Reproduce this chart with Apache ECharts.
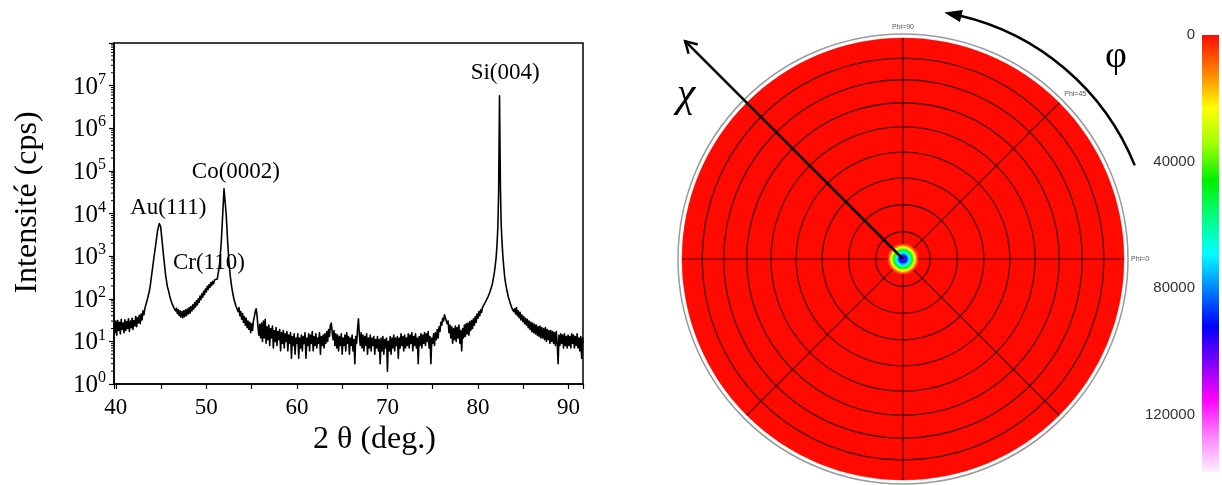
<!DOCTYPE html>
<html><head><meta charset="utf-8">
<script src="https://cdn.jsdelivr.net/npm/echarts@6/dist/echarts.min.js"></script>
<style>html,body{margin:0;padding:0;background:#fff}#c{width:1222px;height:485px}</style>
</head><body><div id="c"></div>
<script>
// ---------- XRD scan: [2theta (deg), intensity (cps)] ----------
const xrdScan = [
[39.8,26],[39.9,16],[40.0,30],[40.1,14],[40.2,31],[40.3,18],[40.4,28],[40.5,15],[40.6,33],[40.7,19],
[40.8,27],[40.9,16],[41.0,32],[41.1,18],[41.2,29],[41.3,20],[41.4,34],[41.5,17],[41.6,30],[41.7,21],
[41.8,35],[41.9,19],[42.0,31],[42.1,23],[42.2,38],[42.3,22],[42.4,36],[42.5,27],[42.6,41],[42.7,26],
[42.8,44],[42.9,32],[43.0,52],[43.1,42],[43.2,58],[43.3,70],[43.4,66],[43.5,100],[43.6,95],[43.7,150],
[43.8,200],[44.0,420],[44.2,900],[44.4,1800],[44.6,3800],[44.8,5800],[44.95,5000],[45.1,2400],[45.3,900],[45.5,360],
[45.7,190],[45.8,160],[45.9,130],[46.0,105],[46.1,100],[46.2,78],[46.3,80],[46.4,62],[46.5,68],[46.6,52],
[46.7,60],[46.8,45],[46.9,55],[47.0,40],[47.1,52],[47.2,37],[47.3,50],[47.4,36],[47.5,52],[47.6,38],
[47.7,55],[47.8,40],[47.9,57],[48.0,44],[48.1,62],[48.2,46],[48.3,66],[48.4,52],[48.5,72],[48.6,57],
[48.7,80],[48.8,64],[48.9,90],[49.0,72],[49.1,100],[49.2,82],[49.3,115],[49.4,95],[49.5,130],[49.6,108],
[49.7,150],[49.8,125],[49.9,170],[50.0,145],[50.1,195],[50.2,165],[50.3,215],[50.4,185],[50.5,240],[50.6,205],
[50.7,255],[50.8,225],[50.9,275],[51.0,250],[51.1,300],[51.2,290],[51.3,390],[51.4,520],[51.5,800],[51.65,2200],
[51.8,9000],[51.95,38000],[52.05,36000],[52.2,9000],[52.35,2200],[52.5,700],[52.65,330],[52.8,190],[52.9,140],[53.0,110],
[53.1,88],[53.2,92],[53.3,65],[53.4,70],[53.5,50],[53.6,62],[53.7,40],[53.8,50],[53.9,33],[54.0,45],
[54.1,28],[54.2,38],[54.3,24],[54.4,35],[54.5,21],[54.6,30],[54.7,19],[54.8,28],[54.9,16],[55.0,26],
[55.1,18],[55.2,30],[55.3,38],[55.4,50],[55.5,58],[55.6,40],[55.7,22],[55.8,14],[55.9,25],[56.0,12],
[56.1,27],[56.2,10],[56.3,30],[56.4,12],[56.5,33],[56.6,9],[56.7,22],[56.8,11],[56.9,24],[57.0,8],
[57.1,20],[57.2,12],[57.3,23],[57.4,7],[57.5,18],[57.6,10],[57.7,21],[57.8,8],[57.9,17],[58.0,11],
[58.1,19],[58.2,6],[58.3,16],[58.4,9],[58.5,18],[58.6,7],[58.7,15],[58.8,10],[58.9,17],[59.0,6],
[59.1,14],[59.2,9],[59.3,16],[59.4,4],[59.5,13],[59.6,8],[59.7,15],[59.8,5],[59.9,12],[60.0,9],
[60.1,15],[60.2,4],[60.3,12],[60.4,7],[60.5,14],[60.6,6],[60.7,13],[60.8,9],[60.9,16],[61.0,4],
[61.1,12],[61.2,8],[61.3,15],[61.4,6],[61.5,14],[61.6,9],[61.7,17],[61.8,6],[61.9,13],[62.0,8],
[62.1,15],[62.2,7],[62.3,12],[62.4,9],[62.5,16],[62.6,5],[62.7,13],[62.8,8],[62.9,14],[63.0,7],
[63.1,15],[63.2,9],[63.3,17],[63.4,10],[63.5,19],[63.6,13],[63.7,24],[63.8,27],[63.9,16],[64.0,11],
[64.1,18],[64.2,8],[64.3,15],[64.4,7],[64.5,14],[64.6,6],[64.7,13],[64.8,8],[64.9,15],[65.0,5],
[65.1,12],[65.2,8],[65.3,14],[65.4,6],[65.5,16],[65.6,9],[65.7,13],[65.8,5],[65.9,12],[66.0,8],
[66.1,14],[66.2,6],[66.3,11],[66.4,3],[66.5,13],[66.6,9],[66.7,20],[66.8,34],[66.9,14],[67.0,8],
[67.1,16],[67.2,7],[67.3,14],[67.4,6],[67.5,13],[67.6,8],[67.7,15],[67.8,5],[67.9,12],[68.0,7],
[68.1,14],[68.2,6],[68.3,12],[68.4,8],[68.5,13],[68.6,5],[68.7,11],[68.8,7],[68.9,13],[69.0,6],
[69.1,11],[69.2,3],[69.3,12],[69.4,6],[69.5,13],[69.6,5],[69.7,11],[69.8,7],[69.9,12],[70.0,2],
[70.1,10],[70.2,6],[70.3,13],[70.4,5],[70.5,12],[70.6,7],[70.7,14],[70.8,6],[70.9,12],[71.0,8],
[71.1,13],[71.2,4],[71.3,12],[71.4,7],[71.5,15],[71.6,8],[71.7,13],[71.8,6],[71.9,14],[72.0,7],
[72.1,12],[72.2,8],[72.3,15],[72.4,7],[72.5,14],[72.6,9],[72.7,16],[72.8,6],[72.9,13],[73.0,8],
[73.1,15],[73.2,7],[73.3,12],[73.4,3],[73.5,13],[73.6,8],[73.7,15],[73.8,7],[73.9,14],[74.0,9],
[74.1,16],[74.2,8],[74.3,15],[74.4,10],[74.5,17],[74.6,7],[74.7,13],[74.8,3],[74.9,12],[75.0,9],
[75.1,15],[75.2,8],[75.3,16],[75.4,11],[75.5,19],[75.6,12],[75.7,22],[75.8,17],[75.9,28],[76.0,24],
[76.1,35],[76.2,30],[76.3,42],[76.4,36],[76.5,40],[76.6,26],[76.7,30],[76.8,16],[76.9,24],[77.0,12],
[77.1,22],[77.2,9],[77.3,20],[77.4,11],[77.5,23],[77.6,10],[77.7,21],[77.8,12],[77.9,24],[78.0,9],
[78.1,18],[78.2,6],[78.3,20],[78.4,12],[78.5,24],[78.6,13],[78.7,26],[78.8,15],[78.9,27],[79.0,14],
[79.1,29],[79.2,18],[79.3,31],[79.4,20],[79.5,34],[79.6,24],[79.7,38],[79.8,28],[79.9,44],[80.0,35],
[80.1,50],[80.2,40],[80.3,55],[80.4,48],[80.5,63],[80.6,58],[80.7,75],[80.8,72],[80.9,90],[81.0,95],
[81.1,110],[81.2,115],[81.3,140],[81.4,155],[81.5,190],[81.6,230],[81.7,300],[81.8,400],[81.9,580],[82.0,900],
[82.1,1800],[82.2,5000],[82.28,30000],[82.38,5800000],[82.48,40000],[82.56,6000],[82.65,2200],[82.75,1000],[82.85,550],[82.95,330],
[83.05,230],[83.15,175],[83.25,140],[83.35,110],[83.45,95],[83.55,80],[83.65,72],[83.75,60],[83.85,66],[83.95,50],
[84.05,58],[84.15,44],[84.25,62],[84.35,40],[84.45,52],[84.55,36],[84.65,48],[84.75,32],[84.85,42],[84.95,29],
[85.05,38],[85.15,26],[85.25,35],[85.35,24],[85.45,33],[85.55,21],[85.65,30],[85.75,19],[85.85,28],[85.95,17],
[86.05,27],[86.15,16],[86.25,25],[86.35,15],[86.45,24],[86.55,14],[86.65,22],[86.75,13],[86.85,23],[86.95,12],
[87.05,21],[87.15,12],[87.25,20],[87.35,11],[87.45,21],[87.55,10],[87.65,19],[87.75,11],[87.85,18],[87.95,9],
[88.05,18],[88.15,10],[88.25,17],[88.35,9],[88.45,16],[88.55,8],[88.65,17],[88.75,9],[88.85,3],[88.95,14],
[89.05,8],[89.15,15],[89.25,9],[89.35,14],[89.45,7],[89.55,15],[89.65,8],[89.75,13],[89.85,7],[89.95,14],
[90.05,8],[90.15,13],[90.25,7],[90.35,15],[90.45,9],[90.55,14],[90.65,7],[90.75,13],[90.85,8],[90.95,15],
[91.05,7],[91.15,12],[91.25,6],[91.35,13],[91.45,4],[91.55,12],[91.6,9]
];
const peakLabels = [
  [83.0, 2.0e7, 'Si(004)'],
  [53.26, 9.5e4, 'Co(0002)'],
  [45.8, 1.35e4, 'Au(111)'],
  [50.28, 690, 'Cr(110)']
];
const xRange = [39.8, 91.6];
const yRange = [1, 1e8];

// ---------- Pole figure: rings of [chi from, chi to, intensity] ----------
const poleBands = [
  [5.6, 90, 0],
  [5.1, 5.6, 4000],
  [4.6, 5.1, 11000],
  [4.1, 4.6, 22000],
  [3.6, 4.1, 33000],
  [3.1, 3.6, 45000],
  [2.6, 3.1, 56000],
  [2.0, 2.6, 69000],
  [1.4, 2.0, 80000],
  [0.8, 1.4, 92000],
  [0.0, 0.8, 100000]
];
const poleRingChi = [10, 20, 30, 40, 50, 60, 70, 80];
const poleSpokePhi = [0, 45, 90, 135, 180, 225, 270, 315];
const phiLabelValues = [0, 45, 90];
const colorbarMax = 138000;
const colorbarTickStep = 40000;
const palette = ['#ff0a00','#ff8000','#ffff00','#9fff00','#00f000','#00ff80','#00ffff',
                 '#0080ff','#0000ff','#8000ff','#ff00ff','#ff80ff','#fff0ff'];

const SERIF = 'Liberation Serif';
const SANS = 'Liberation Sans';

// equal-area projection of tilt angle chi onto the disk (chi = 90 -> 1)
function proj(chi) { return Math.sin(chi * Math.PI / 360) / Math.SQRT1_2; }
function radiusPx(api, cs, chi) {
  const p = api.coord([proj(chi), 0]);
  return Math.hypot(p[0] - cs.cx, p[1] - cs.cy);
}

const yMinorTicks = [];
for (let k = 0; k < 8; k++) for (let m = 2; m <= 9; m++) yMinorTicks.push([xRange[0], m * Math.pow(10, k)]);

const chart = echarts.init(document.getElementById('c'), null, {renderer: 'canvas'});
const option = {
  animation: false,
  backgroundColor: '#fff',
  grid: [
    {left: 114, top: 43, width: 469, height: 341, show: true, borderColor: '#000', borderWidth: 1.5, backgroundColor: 'transparent'},
    {left: 1202, top: 35, width: 17, height: 437}
  ],
  polar: {center: [903, 259], radius: [0, 225]},
  radiusAxis: {type: 'value', min: 0, max: 225 / 221, axisLine: {show: false}, axisTick: {show: false},
               axisLabel: {show: false}, splitLine: {show: false}},
  angleAxis: {type: 'value', min: 0, max: 360, interval: 45, startAngle: 0, clockwise: false, z: 1,
              axisLine: {lineStyle: {color: '#9a9a9a', width: 1.5}}, axisTick: {show: false}, splitLine: {show: false},
              axisLabel: {margin: 3, fontSize: 7, color: '#555', fontFamily: SANS,
                          formatter: v => phiLabelValues.indexOf(v) >= 0 ? 'Phi=' + v : ''}},
  xAxis: [
    {type: 'value', gridIndex: 0, min: xRange[0], max: xRange[1], splitNumber: 5,
     name: '2 θ (deg.)', nameLocation: 'middle', nameGap: 39,
     nameTextStyle: {fontFamily: SERIF, fontSize: 32, color: '#000', padding: [0, 0, 0, 52]},
     axisLine: {lineStyle: {color: '#000', width: 1.5}},
     axisTick: {length: 5, lineStyle: {color: '#000', width: 1.2}},
     minorTick: {show: true, splitNumber: 2, length: 5, lineStyle: {color: '#000', width: 1.2}},
     axisLabel: {margin: 12, fontFamily: SERIF, fontSize: 23, color: '#000',
                 formatter: v => (Math.abs(v % 10) < 1e-6 ? String(v) : '')},
     splitLine: {show: false}},
    {type: 'category', gridIndex: 1, data: ['I'], show: false}
  ],
  yAxis: [
    {type: 'log', gridIndex: 0, logBase: 10, min: yRange[0], max: yRange[1], splitNumber: 8,
     name: 'Intensité (cps)', nameLocation: 'middle', nameGap: 70,
     nameTextStyle: {fontFamily: SERIF, fontSize: 32, color: '#000', padding: [0, 0, 0, 22]},
     axisLine: {lineStyle: {color: '#000', width: 1.5}},
     axisTick: {length: 5, lineStyle: {color: '#000', width: 1.2}},
     axisLabel: {margin: 8, color: '#000',
       formatter: v => { const e = Math.round(Math.log10(v)); return e >= 8 ? '' : '{b|10}{s|' + e + '}'; },
       rich: {b: {fontFamily: SERIF, fontSize: 25, color: '#000', lineHeight: 28, verticalAlign: 'bottom'},
              s: {fontFamily: SERIF, fontSize: 16, color: '#000', verticalAlign: 'top', lineHeight: 24}}},
     splitLine: {show: false}},
    {type: 'value', gridIndex: 1, inverse: true, min: 0, max: colorbarMax, interval: colorbarTickStep,
     axisLine: {show: false}, axisTick: {show: false}, splitLine: {show: false},
     axisLabel: {margin: 7, fontFamily: SANS, fontSize: 15, color: '#333', showMaxLabel: false,
                 formatter: v => String(v)}}
  ],
  visualMap: {type: 'continuous', show: false, min: 0, max: colorbarMax, dimension: 2, seriesIndex: [3],
              inRange: {color: palette}},
  series: [
    {type: 'line', name: 'XRD', xAxisIndex: 0, yAxisIndex: 0, data: xrdScan, showSymbol: false,
     symbol: 'none', sampling: null, lineStyle: {color: '#000', width: 1.6, join: 'round'}, z: 3},
    {type: 'custom', name: 'yMinorTicks', xAxisIndex: 0, yAxisIndex: 0, data: yMinorTicks, clip: false, silent: true,
     renderItem: (params, api) => {
       const p = api.coord([api.value(0), api.value(1)]);
       return {type: 'line', shape: {x1: p[0] - 3, y1: p[1], x2: p[0], y2: p[1]},
               style: {stroke: '#000', lineWidth: 1}};
     }},
    {type: 'custom', name: 'peaks', xAxisIndex: 0, yAxisIndex: 0, data: peakLabels, silent: true, z: 5, clip: false,
     renderItem: (params, api) => {
       const p = api.coord([api.value(0), api.value(1)]);
       return {type: 'text', x: p[0], y: p[1],
               style: {text: peakLabels[params.dataIndex][2], font: '23px "Liberation Serif"', fill: '#000',
                       align: 'center', verticalAlign: 'middle'}};
     }},
    {type: 'custom', name: 'pole', coordinateSystem: 'polar', data: poleBands, z: 2, silent: true,
     renderItem: (params, api) => {
       const cs = params.coordSys;
       const r0 = radiusPx(api, cs, api.value(0));
       const r1 = radiusPx(api, cs, api.value(1));
       return {type: 'sector', shape: {cx: cs.cx, cy: cs.cy, r0: r0, r: r1, startAngle: 0, endAngle: Math.PI * 2},
               style: {fill: api.visual('color'), stroke: api.visual('color'), lineWidth: 0.5}};
     }},
    {type: 'custom', name: 'rings', coordinateSystem: 'polar', data: poleRingChi.map(c => [c, 0]), z: 3, silent: true,
     renderItem: (params, api) => {
       const cs = params.coordSys;
       const r = radiusPx(api, cs, api.value(0));
       return {type: 'circle', shape: {cx: cs.cx, cy: cs.cy, r: r},
               style: {fill: 'none', stroke: 'rgba(45,0,0,0.85)', lineWidth: 1.3}};
     }},
    {type: 'custom', name: 'spokes', coordinateSystem: 'polar', data: poleSpokePhi.map(a => [5.5, a]), z: 3, silent: true,
     renderItem: (params, api) => {
       const a = api.value(1);
       const p0 = api.coord([proj(api.value(0)), a]);
       const p1 = api.coord([proj(90), a]);
       return {type: 'line', shape: {x1: p0[0], y1: p0[1], x2: p1[0], y2: p1[1]},
               style: {stroke: 'rgba(45,0,0,0.85)', lineWidth: 1.2}};
     }},
    {type: 'bar', name: 'colorbar', xAxisIndex: 1, yAxisIndex: 1, data: [colorbarMax], barWidth: '100%', silent: true,
     itemStyle: {color: new echarts.graphic.LinearGradient(0, 0, 0, 1,
        palette.map((c, i) => ({offset: i / (palette.length - 1), color: c})))}}
  ]
};
chart.setOption(option);

// ---------- annotation arrows (chi and phi) placed through the polar coordinate system ----------
const px = (r, a) => chart.convertToPixel({polarIndex: 0}, [r, a]);
const C = px(0, 0);
const tip = px(1.394, 135);
const d = [(tip[0] - C[0]), (tip[1] - C[1])];
const dl = Math.hypot(d[0], d[1]); d[0] /= dl; d[1] /= dl;
function rot(v, ang) { const c = Math.cos(ang), s = Math.sin(ang); return [v[0] * c - v[1] * s, v[0] * s + v[1] * c]; }
const a1 = rot(d, Math.PI / 6), a2 = rot(d, -Math.PI / 6);
const arm1 = [tip[0] - 13 * a1[0], tip[1] - 13 * a1[1]];
const arm2 = [tip[0] - 13 * a2[0], tip[1] - 13 * a2[1]];

const arcStart = px(1.131, 22);
const arcR = Math.hypot(arcStart[0] - C[0], arcStart[1] - C[1]);
const phiTip = px(1.131, 80.5);
const baseL = px(1.131 - 0.028, 76.5);
const baseR = px(1.131 + 0.028, 76.5);
const chiPos = px(1.231, 142.9);
const phiPos = px(1.328, 43.5);

chart.setOption({
  graphic: [
    {type: 'polyline', shape: {points: [C, tip]}, style: {stroke: '#000', lineWidth: 2.5}, z: 10},
    {type: 'polyline', shape: {points: [arm1, tip, arm2]}, style: {stroke: '#000', lineWidth: 2.5, fill: null}, z: 10},
    {type: 'arc', shape: {cx: C[0], cy: C[1], r: arcR, startAngle: -77 * Math.PI / 180, endAngle: -22 * Math.PI / 180, clockwise: true},
     style: {stroke: '#000', lineWidth: 2.5, fill: null}, z: 10},
    {type: 'polygon', shape: {points: [phiTip, baseL, baseR]}, style: {fill: '#000'}, z: 10},
    {type: 'text', x: chiPos[0], y: chiPos[1], z: 10,
     style: {text: 'χ', font: 'italic 42px "Liberation Serif"', fill: '#000', align: 'center', verticalAlign: 'middle',
             textAlign: 'center', textVerticalAlign: 'middle'}},
    {type: 'text', x: phiPos[0], y: phiPos[1], z: 10,
     style: {text: 'φ', font: '38px "Liberation Serif"', fill: '#000', align: 'center', verticalAlign: 'middle',
             textAlign: 'center', textVerticalAlign: 'middle'}}
  ]
});
</script>
</body></html>
